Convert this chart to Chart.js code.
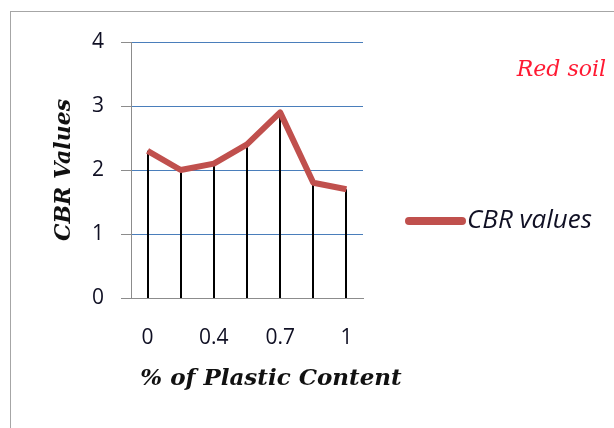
<!DOCTYPE html>
<html>
<head>
<meta charset="utf-8">
<script src="https://cdn.jsdelivr.net/npm/chart.js@4/dist/chart.umd.min.js"></script>
<style>
  html, body { margin: 0; padding: 0; background: #fff; }
  #wrap { position: relative; width: 614px; height: 428px; overflow: hidden; }
  #frame { position: absolute; left: 10px; top: 11px; width: 700px; height: 500px;
           border-left: 1px solid #a6a6a6; border-top: 1px solid #a6a6a6; box-sizing: border-box; }
  canvas { position: absolute; left: 0; top: 0; }
</style>
</head>
<body>
<div id="wrap">
  <div id="frame"></div>
  <canvas id="c" width="614" height="428"></canvas>
</div>
<script>
// Plastic content (%) and the measured CBR values of red soil
const plasticContent = ['0', '0.2', '0.4', '0.5', '0.7', '0.8', '1'];
const cbrValues = [2.3, 2.0, 2.1, 2.4, 2.9, 1.8, 1.7];
const yTicks = [0, 1, 2, 3, 4];

const seriesName = 'CBR values';
const soilLabel = 'Red soil';
const xTitle = '% of Plastic Content';
const yTitle = 'CBR Values';

const lineColor = '#C0504D';
const axisGray = '#8c8c8c';
const gridBlue = '#4A7EBB';
const textDark = '#101024';

// vertical drop lines from each point down to the x axis
const dropLines = {
  id: 'dropLines',
  beforeDatasetsDraw(chart) {
    const { ctx, scales: { y } } = chart;
    const base = y.getPixelForValue(0);
    const meta = chart.getDatasetMeta(0);
    ctx.save();
    ctx.strokeStyle = '#000';
    ctx.lineWidth = 2;
    meta.data.forEach(pt => {
      const x = Math.round(pt.x);
      ctx.beginPath();
      ctx.moveTo(x, pt.y);
      ctx.lineTo(x, base);
      ctx.stroke();
    });
    ctx.restore();
  }
};

// x-axis title, legend entry and the soil label
const annotations = {
  id: 'annotations',
  afterDraw(chart) {
    const { ctx, chartArea: a } = chart;
    ctx.save();
    ctx.fillStyle = '#111';
    ctx.font = 'bold italic 23px "DejaVu Serif"';
    ctx.textAlign = 'center';
    ctx.textBaseline = 'middle';
    ctx.fillText(xTitle, a.left + 140, a.bottom + 81);

    // legend
    const ds = chart.data.datasets[0];
    const ly = 221;
    ctx.strokeStyle = ds.borderColor;
    ctx.lineWidth = 8;
    ctx.lineCap = 'round';
    ctx.beginPath();
    ctx.moveTo(409, ly);
    ctx.lineTo(462, ly);
    ctx.stroke();
    ctx.fillStyle = textDark;
    ctx.font = 'italic 500 26px "Open Sans"';
    ctx.textAlign = 'left';
    ctx.fillText(ds.label, 467, ly);

    ctx.fillStyle = '#ff1a33';
    ctx.font = 'italic 22px "DejaVu Serif"';
    ctx.textAlign = 'right';
    ctx.fillText(soilLabel, 606, 70);
    ctx.restore();
  }
};

new Chart(document.getElementById('c'), {
  type: 'line',
  data: {
    labels: plasticContent,
    datasets: [{
      label: seriesName,
      data: cbrValues,
      borderColor: lineColor,
      borderWidth: 6,
      borderJoinStyle: 'round',
      pointRadius: 0,
      pointHoverRadius: 0,
      tension: 0,
      fill: false
    }]
  },
  options: {
    responsive: false,
    animation: false,
    events: [],
    layout: { padding: { left: 0, right: 251, top: 42, bottom: 0 } },
    plugins: { legend: { display: false }, tooltip: { enabled: false } },
    scales: {
      x: {
        type: 'category',
        offset: true,
        grid: { display: false },
        border: { display: true, color: axisGray, width: 1 },
        ticks: {
          autoSkip: false,
          maxRotation: 0,
          padding: 19,
          color: textDark,
          font: { family: 'Open Sans', size: 21, weight: '500' },
          callback(v, i) { return i % 2 === 0 ? this.getLabelForValue(v) : ''; }
        },
        afterFit(s) { s.height = 130; }
      },
      y: {
        min: 0,
        max: 4,
        afterBuildTicks(s) { s.ticks = yTicks.map(v => ({ value: v })); },
        grid: { color: gridBlue, lineWidth: 1, tickColor: axisGray, tickLength: 10 },
        border: { display: true, color: axisGray, width: 1 },
        ticks: {
          padding: 17,
          color: textDark,
          font: { family: 'Open Sans', size: 21, weight: '500' }
        },
        title: {
          display: true,
          text: yTitle,
          color: '#111',
          font: { family: 'DejaVu Serif', size: 22, style: 'italic', weight: 'bold' },
          padding: { top: 51, bottom: 0 }
        },
        afterFit(s) { s.width = 131; }
      }
    }
  },
  plugins: [dropLines, annotations]
});
</script>
</body>
</html>
